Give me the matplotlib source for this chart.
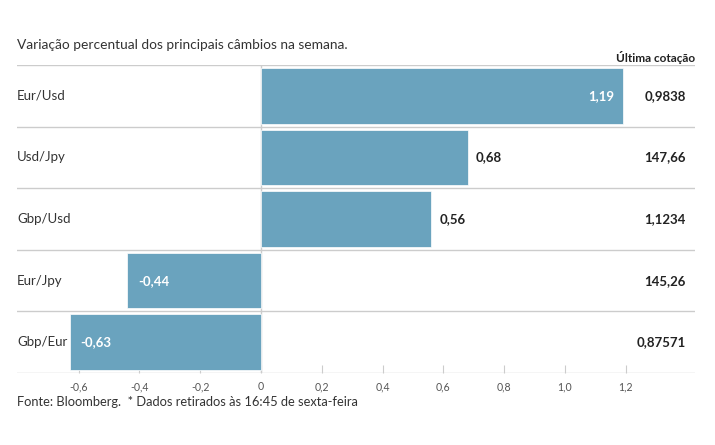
import matplotlib.pyplot as plt
from matplotlib.ticker import FuncFormatter

pares = ['Eur/Usd', 'Usd/Jpy', 'Gbp/Usd', 'Eur/Jpy', 'Gbp/Eur']
variacao = [1.19, 0.68, 0.56, -0.44, -0.63]
cotacao = ['0,9838', '147,66', '1,1234', '145,26', '0,87571']
ticks = [-0.6, -0.4, -0.2, 0, 0.2, 0.4, 0.6, 0.8, 1.0, 1.2]

plt.rcParams['font.family'] = ['Lato', 'DejaVu Sans']

cor_barra = '#6aa3be'
cor_texto = '#222222'
cor_linha = '#cccccc'

fig = plt.figure(figsize=(7.15, 4.45), dpi=100)
ax = fig.add_axes([17 / 715, 1 - 373 / 445, 678 / 715, 308 / 445])

ypos = list(range(len(pares)))
ax.barh(ypos, variacao, height=0.9, color=cor_barra, edgecolor='white', linewidth=0.5, zorder=2)
ax.set_ylim(len(pares) - 0.5, -0.5)
ax.set_xlim(-0.803, 1.428)

# linhas separadoras entre pares
for i in range(len(pares) + 1):
    ax.axhline(i - 0.5, color=cor_linha, linewidth=1, zorder=1)
ax.axvline(0, color=cor_linha, linewidth=1, zorder=1)

for s in ax.spines.values():
    s.set_visible(False)
ax.set_yticks([])
ax.set_xticks(ticks)
ax.xaxis.set_major_formatter(FuncFormatter(lambda v, p: '0' if abs(v) < 1e-9 else f'{v:.1f}'.replace('.', ',')))
ax.tick_params(axis='x', direction='in', length=6, color=cor_linha, labelsize=7.6, labelcolor='#555555', pad=6)

for i, (par, v, c) in enumerate(zip(pares, variacao, cotacao)):
    ax.text(0, i, par, transform=ax.get_yaxis_transform(), ha='left', va='center',
            fontsize=9.5, color='#333333')
    txt = f'{v:.2f}'.replace('.', ',')
    if v > 1.0:
        ax.annotate(txt, (v, i), xytext=(-8, 0), textcoords='offset pixels', ha='right', va='center',
                    fontsize=9.5, fontweight='bold', color='white')
    elif v > 0:
        ax.annotate(txt, (v, i), xytext=(8, 0), textcoords='offset pixels', ha='left', va='center',
                    fontsize=9.5, fontweight='bold', color=cor_texto)
    else:
        ax.annotate(txt, (v, i), xytext=(11, 0), textcoords='offset pixels', ha='left', va='center',
                    fontsize=9.5, fontweight='bold', color='white')
    ax.text(686 / 715, 1 - (65 + 61.6 * (i + 0.5)) / 445, c, transform=fig.transFigure,
            ha='right', va='center', fontsize=9.5, fontweight='bold', color=cor_texto)

fig.text(17 / 715, 1 - 45 / 445, 'Variação percentual dos principais câmbios na semana.',
         ha='left', va='center', fontsize=9.9, color='#333333')
fig.text(695 / 715, 1 - 57 / 445, 'Última cotação', ha='right', va='center',
         fontsize=8.5, fontweight='bold', color=cor_texto)
fig.text(17 / 715, 1 - 402 / 445, 'Fonte: Bloomberg.  * Dados retirados às 16:45 de sexta-feira',
         ha='left', va='center', fontsize=9.3, color='#333333')

fig.savefig('out.png', dpi=100)
